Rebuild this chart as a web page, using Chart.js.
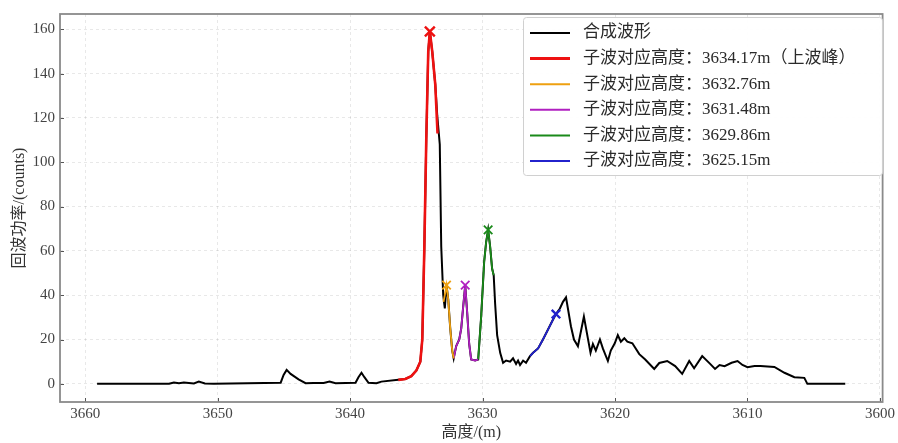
<!DOCTYPE html>
<html><head><meta charset="utf-8">
<script src="https://cdn.jsdelivr.net/npm/chart.js@4.4.0/dist/chart.umd.min.js"></script>
<style>html,body{margin:0;padding:0;background:#fff;} #wrap{width:898px;height:443px;}</style>
</head><body><div id="wrap"><canvas id="c" width="898" height="443"></canvas></div>
<script>
// ---- data ----
const compositeX = [3659.10,3653.67,3653.30,3652.92,3652.55,3651.79,3651.42,3650.96,3650.29,3645.24,3645.02,3644.79,3644.49,3643.89,3643.36,3642.76,3642.00,3641.55,3641.10,3639.59,3639.37,3639.14,3638.92,3638.61,3638.01,3637.64,3636.36,3635.83,3635.38,3635.00,3634.70,3634.55,3634.40,3634.25,3634.10,3633.98,3633.80,3633.57,3633.42,3633.23,3633.12,3632.97,3632.85,3632.72,3632.59,3632.44,3632.29,3632.18,3631.99,3631.76,3631.61,3631.46,3631.31,3631.16,3631.01,3630.86,3630.56,3630.33,3630.11,3629.88,3629.73,3629.58,3629.43,3629.28,3629.16,3629.05,3628.90,3628.67,3628.45,3628.22,3627.92,3627.70,3627.47,3627.32,3627.17,3626.94,3626.72,3626.42,3626.19,3625.81,3625.44,3625.06,3624.68,3624.46,3624.16,3623.93,3623.70,3623.33,3623.10,3622.80,3622.35,3621.85,3621.67,3621.45,3621.14,3620.92,3620.54,3620.32,3620.02,3619.79,3619.56,3619.30,3619.07,3618.69,3618.17,3617.72,3617.04,3616.66,3616.06,3615.46,3614.93,3614.40,3614.03,3613.42,3612.82,3612.45,3612.11,3611.73,3611.20,3610.75,3610.38,3610.00,3609.47,3609.02,3608.49,3607.97,3607.21,3606.46,3605.71,3605.48,3602.62];
const compositeY = [0,0,0.6,0.3,0.6,0.2,1.0,0.2,0,0.5,4,6.3,4.5,2,0.3,0.4,0.4,1.0,0.3,0.5,3,5.0,3,0.5,0.3,1.0,1.8,2.2,3.5,6,10,20,60,110,150,159,150,135,121,108,62,40,34,44.5,38,25,15,11.5,17,20,25,35,44.5,32,18,11,10.5,11,30,55,64,69.5,62,52,49,36,22,14,9.5,10.5,10,11.5,9,10.5,8.5,10.5,9.5,12.5,14,16,20,24.5,29,31.5,34,37,39,26,20,17,30.4,14,18,15,20,16,10.3,15,18.3,22,19,20.6,19,18.3,13.4,11,6.7,9.4,10.3,8,4.5,10.3,7,12.5,9,6.7,8.5,8,9.5,10.3,8.5,7.5,8,8,7.8,7.6,5,3,2.7,0,0];
const redX = [3636.36,3635.83,3635.38,3635.00,3634.70,3634.55,3634.40,3634.25,3634.10,3633.98,3633.80,3633.57,3633.40];
const redY = [1.8,2.2,3.5,6,10,20,60,110,150,159,150,135,113];
const orangeX = [3632.95,3632.85,3632.72,3632.59,3632.44,3632.29,3632.18];
const orangeY = [37,40,44.5,38,25,15,11.5];
const purpleX = [3632.18,3631.99,3631.76,3631.61,3631.46,3631.31,3631.16,3631.01,3630.86,3630.56,3630.33];
const purpleY = [11.5,17,20,25,35,44.5,32,18,11,10.5,11];
const greenX = [3630.33,3630.11,3629.88,3629.73,3629.58,3629.43,3629.28,3629.16];
const greenY = [11,30,55,64,69.5,62,52,49];
const blueX = [3626.42,3626.19,3625.81,3625.44,3625.06,3624.68,3624.46];
const blueY = [12.5,14,16,20,24.5,29,31.5];
const peakX = [3633.98,3632.72,3631.31,3629.58,3624.46];
const peakY = [159,44.5,44.5,69.5,31.5];
const seriesLabels = ['合成波形','子波对应高度：3634.17m（上波峰）','子波对应高度：3632.76m','子波对应高度：3631.48m','子波对应高度：3629.86m','子波对应高度：3625.15m'];
const xTicks = [3660,3650,3640,3630,3620,3610,3600];
const yTicks = [0,20,40,60,80,100,120,140,160];

// ---- styles ----
const colors = ['#000000','#ee1111','#eea010','#b020c0','#1a8a1a','#2222cc'];
const widths = [2,2.6,1.8,1.8,1.8,1.8];
const pts = (xs, ys) => xs.map((x,i)=>({x:x, y:ys[i]}));
const seriesData = [pts(compositeX,compositeY),pts(redX,redY),pts(orangeX,orangeY),pts(purpleX,purpleY),pts(greenX,greenY),pts(blueX,blueY)];

const datasets = seriesData.map((d,i)=>({
  label: seriesLabels[i], data: d, borderColor: colors[i], backgroundColor: colors[i],
  borderWidth: widths[i], pointRadius: 0, tension: 0, fill: false, order: i===0 ? 10 : 5
}));
datasets.push({
  label: 'peaks', type: 'scatter', data: pts(peakX, peakY), showLine: false,
  pointStyle: 'crossRot', pointRadius: [7,6,6,6,6], pointBorderWidth: [2.4,1.8,1.8,1.8,2.4],
  pointBorderColor: colors.slice(1), pointBackgroundColor: colors.slice(1), order: 1
});

const serif = "'Liberation Serif', 'Noto Sans CJK SC', serif";

const framePlugin = {
  id: 'frame',
  afterDatasetsDraw(chart) {
    const {ctx, chartArea: a, scales} = chart;
    ctx.save();
    ctx.strokeStyle = '#555'; ctx.lineWidth = 1;
    ctx.beginPath();
    xTicks.forEach(v => { const p = Math.round(scales.x.getPixelForValue(v))+0.5; ctx.moveTo(p, a.bottom); ctx.lineTo(p, a.bottom-4); });
    yTicks.forEach(v => { const p = Math.round(scales.y.getPixelForValue(v))+0.5; ctx.moveTo(a.left, p); ctx.lineTo(a.left+4, p); });
    ctx.stroke();
    ctx.strokeStyle = '#8a8a8a'; ctx.lineWidth = 1.8;
    ctx.strokeRect(a.left, a.top, a.right-a.left, a.bottom-a.top);
    // legend
    const lx = 523, ly = 17, lw = 359, lh = 158;
    ctx.fillStyle = 'rgba(255,255,255,0.92)';
    ctx.strokeStyle = '#d0d0d0'; ctx.lineWidth = 1;
    ctx.beginPath();
    if (ctx.roundRect) ctx.roundRect(lx+0.5, ly+0.5, lw, lh, 3); else ctx.rect(lx+0.5, ly+0.5, lw, lh);
    ctx.fill(); ctx.stroke();
    ctx.font = "17px " + serif; ctx.textBaseline = 'middle'; ctx.textAlign = 'left';
    seriesLabels.forEach((t,i) => {
      const y = 33 + i*25.6;
      ctx.strokeStyle = colors[i]; ctx.lineWidth = i===1 ? 3 : 2;
      ctx.beginPath(); ctx.moveTo(530, y); ctx.lineTo(570, y); ctx.stroke();
      ctx.fillStyle = '#2a2a2a'; ctx.fillText(t, 583, y);
    });
    ctx.restore();
  }
};

new Chart(document.getElementById('c'), {
  type: 'line',
  data: { datasets },
  options: {
    responsive: false, animation: false, devicePixelRatio: 1,
    layout: { padding: { top: 10, right: 13, left: 0, bottom: 0 } },
    plugins: { legend: { display: false }, tooltip: { enabled: false } },
    scales: {
      x: {
        type: 'linear', reverse: true, min: 3599.8, max: 3661.9,
        afterBuildTicks: s => { s.ticks = xTicks.map(v => ({value: v})); },
        afterFit: s => { s.height = 41; },
        grid: { color: 'rgba(0,0,0,0.09)', drawTicks: false },
        border: { display: false, dash: [3,3] },
        ticks: { padding: 3, color: '#444', font: { family: serif, size: 15 }, callback: v => String(v) },
        title: { display: true, text: '高度/(m)', color: '#333', font: { family: serif, size: 16 }, padding: { top: 0, bottom: 1 } }
      },
      y: {
        type: 'linear', min: -8.2, max: 166.9,
        afterBuildTicks: s => { s.ticks = yTicks.map(v => ({value: v})); },
        afterFit: s => { s.width = 60; },
        grid: { color: 'rgba(0,0,0,0.09)', drawTicks: false },
        border: { display: false, dash: [3,3] },
        ticks: { padding: 5, color: '#444', font: { family: serif, size: 15 }, callback: v => String(v) },
        title: { display: true, text: '回波功率/(counts)', color: '#333', font: { family: serif, size: 16 }, padding: { top: 10, bottom: 0 } }
      }
    }
  },
  plugins: [framePlugin]
});
</script></body></html>
